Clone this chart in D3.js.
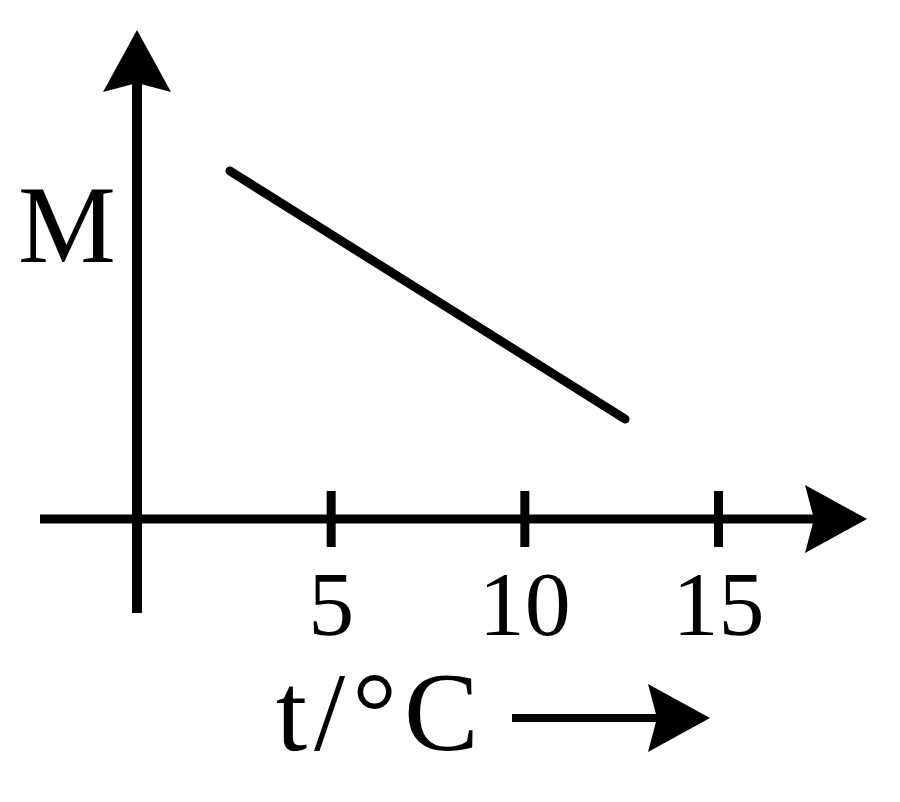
<!DOCTYPE html>
<html>
<head>
<meta charset="utf-8">
<script src="https://cdn.jsdelivr.net/npm/d3@7"></script>
<style>
  body { margin: 0; background: #fff; }
  svg { display: block; }
  text { font-family: "Liberation Serif", "Times New Roman", serif; fill: #000; }
</style>
</head>
<body>
<div id="chart"></div>
<script>
// Data (M has no printed scale, so its units are arbitrary)
const tValues = [2.4, 12.6];      // t / °C at the two ends of the line
const mValues = [8.7, 2.5];       // M at those points
const tickValues = [5, 10, 15];
const tickLabels = ["5", "10", "15"];
const xLabel = "t/°C";
const yLabel = "M";

const width = 900;
const height = 802;

const svg = d3.select("#chart")
    .append("svg")
    .attr("width", width)
    .attr("height", height);

// Scales
const x = d3.scaleLinear().domain([0, 15]).range([137, 718]);
const y = d3.scaleLinear().domain([0, 10]).range([519, 119]);

const strokeW = 9;

// Arrowhead with a notched back, pointing along angle (radians)
function arrowHead(tx, ty, angle) {
    const len = 62, half = 34, notch = 9;
    const c = Math.cos(angle), s = Math.sin(angle);
    const pt = (a, b) => [tx - a * c - b * s, ty - a * s + b * c];
    const pts = [pt(0, 0), pt(len, -half), pt(len - notch, 0), pt(len, half)];
    return "M" + pts.map(p => p.join(",")).join("L") + "Z";
}

// x axis line + arrow
const xEnd = 867;
svg.append("line")
    .attr("x1", 40).attr("x2", xEnd - 50)
    .attr("y1", y(0)).attr("y2", y(0))
    .attr("stroke", "#000").attr("stroke-width", strokeW);
svg.append("path")
    .attr("d", arrowHead(xEnd, y(0), 0))
    .attr("fill", "#000");

// y axis line + arrow
const yEnd = 30;
svg.append("line")
    .attr("x1", x(0)).attr("x2", x(0))
    .attr("y1", 613).attr("y2", yEnd + 50)
    .attr("stroke", "#000").attr("stroke-width", strokeW + 1);
svg.append("path")
    .attr("d", arrowHead(x(0), yEnd, -Math.PI / 2))
    .attr("fill", "#000");

// ticks and tick labels via d3 axis
const xAxis = svg.append("g")
    .attr("transform", `translate(0,${y(0)})`)
    .call(d3.axisBottom(x)
        .tickValues(tickValues)
        .tickFormat((d, i) => tickLabels[i])
        .tickSize(0));

xAxis.select(".domain").remove();
xAxis.selectAll(".tick line")
    .attr("y1", -28).attr("y2", 28)
    .attr("stroke", "#000")
    .attr("stroke-width", strokeW);
xAxis.selectAll(".tick text")
    .attr("y", 116).attr("dy", 0)
    .attr("font-size", 92)
    .attr("font-family", "Liberation Serif")
    .attr("fill", "#000");

// the line M(t)
const line = d3.line()
    .x((d, i) => x(tValues[i]))
    .y(d => y(d));

svg.append("path")
    .datum(mValues)
    .attr("d", line)
    .attr("fill", "none")
    .attr("stroke", "#000")
    .attr("stroke-width", strokeW)
    .attr("stroke-linecap", "round");

// labels
svg.append("text")
    .attr("x", 18).attr("y", 262)
    .attr("font-size", 110)
    .text(yLabel);

svg.append("text")
    .attr("x", 276).attr("y", 750)
    .attr("font-size", 112)
    .attr("letter-spacing", 7)
    .text(xLabel);

// arrow after the x label
svg.append("line")
    .attr("x1", 512).attr("x2", 660)
    .attr("y1", 718).attr("y2", 718)
    .attr("stroke", "#000").attr("stroke-width", 8);
svg.append("path")
    .attr("d", arrowHead(710, 718, 0))
    .attr("fill", "#000");
</script>
</body>
</html>
